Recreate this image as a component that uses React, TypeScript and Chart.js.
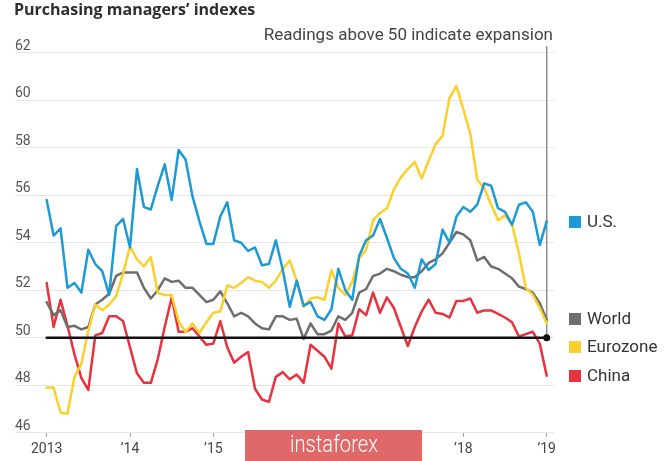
import React, { useEffect, useRef } from "react";
import { Chart, registerables } from "chart.js";

Chart.register(...registerables);

// Monthly readings, Jan 2013 .. Jan 2019
const months: number[] = Array.from({ length: 73 }, (_, i) => i);

const usValues = [
  55.8, 54.3, 54.6, 52.1, 52.3, 51.9, 53.7, 53.1, 52.8, 51.8, 54.7, 55.0,
  53.8, 57.1, 55.5, 55.4, 56.4, 57.3, 55.8, 57.9, 57.5, 55.95, 54.9, 53.95,
  53.95, 55.1, 55.7, 54.1, 54.0, 53.65, 53.8, 53.05, 53.1, 54.1, 52.85, 51.3,
  52.4, 51.35, 51.5, 50.9, 50.75, 51.2, 52.9, 52.0, 51.6, 53.45, 54.1, 54.3,
  55.0, 54.2, 53.35, 52.9, 52.7, 52.1, 53.3, 52.85, 53.1, 54.55, 54.0, 55.1,
  55.5, 55.3, 55.6, 56.5, 56.4, 55.45, 55.3, 54.75, 55.6, 55.7, 55.3, 53.9, 54.9,
];

const eurozoneValues = [
  47.9, 47.9, 46.85, 46.8, 48.35, 48.9, 50.3, 51.4, 51.15, 51.4, 51.75, 52.7,
  53.85, 53.3, 53.0, 53.4, 51.9, 51.8, 51.8, 50.7, 50.25, 50.6, 50.2, 50.65,
  51.05, 51.1, 52.2, 52.1, 52.3, 52.55, 52.4, 52.35, 52.1, 52.4, 52.9, 53.25,
  52.4, 51.3, 51.65, 51.7, 51.6, 52.85, 52.1, 51.8, 52.35, 53.35, 53.7, 54.95,
  55.25, 55.45, 56.25, 56.75, 57.1, 57.4, 56.7, 57.45, 58.15, 58.5, 60.1, 60.6,
  59.6, 58.6, 56.65, 56.3, 55.6, 54.95, 55.15, 54.8, 53.55, 52.1, 51.8, 51.25, 50.6,
];

const worldValues = [
  51.5, 50.95, 51.15, 50.45, 50.5, 50.35, 50.45, 51.4, 51.6, 51.85, 52.6, 52.75,
  52.75, 52.75, 52.1, 51.65, 52.0, 52.5, 52.35, 52.4, 52.1, 52.1, 51.8, 51.5,
  51.6, 51.95, 51.45, 50.9, 51.05, 50.9, 50.6, 50.4, 50.35, 50.9, 50.9, 50.75,
  50.8, 49.95, 50.6, 50.15, 50.15, 50.3, 50.9, 50.75, 51.05, 51.9, 52.05, 52.6,
  52.7, 52.9, 52.8, 52.65, 52.55, 52.55, 52.8, 53.15, 53.3, 53.55, 54.0, 54.45,
  54.35, 54.1, 53.25, 53.4, 53.0, 52.9, 52.7, 52.5, 52.15, 52.05, 51.9, 51.45, 50.75,
];

const chinaValues = [
  52.3, 50.45, 51.6, 50.5, 49.3, 48.3, 47.8, 50.1, 50.2, 50.9, 50.9, 50.7,
  49.6, 48.5, 48.1, 48.1, 49.1, 50.45, 51.7, 50.25, 50.25, 50.4, 50.05, 49.7,
  49.75, 50.7, 49.6, 48.95, 49.2, 49.4, 47.85, 47.4, 47.3, 48.35, 48.55, 48.25,
  48.45, 48.1, 49.7, 49.45, 49.2, 48.7, 50.6, 50.05, 50.1, 51.2, 50.95, 51.9,
  51.05, 51.7, 51.25, 50.45, 49.65, 50.45, 51.1, 51.6, 51.05, 51.0, 50.85, 51.55,
  51.55, 51.65, 51.05, 51.15, 51.15, 51.0, 50.85, 50.65, 50.05, 50.15, 50.25, 49.75, 48.4,
];

const yearTickValues = [0, 12, 24, 36, 48, 60, 72];
const yearTickLabels = ["2013", "\u201914", "\u201915", "\u201916", "\u201917", "\u201918", "\u201919"];

const seriesNames = ["U.S.", "World", "Eurozone", "China"];
const seriesColors = ["#1d9ad6", "#6e6e6e", "#fbd02c", "#e8323e"];

const expansionLevel = 50;
const lastMonth = 72;

const TITLE = "Purchasing managers\u2019 indexes";
const SUBTITLE = "Readings above 50 indicate expansion";

const toPoints = (vals: number[]) => vals.map((v, i) => ({ x: months[i], y: v }));

export default function App() {
  const canvasRef = useRef<HTMLCanvasElement | null>(null);

  useEffect(() => {
    const canvas = canvasRef.current;
    if (!canvas) return;

    const legendY = [222, 319, 347, 376];

    const overlay = {
      id: "overlay",
      afterDraw(chart: any) {
        const ctx = chart.ctx as CanvasRenderingContext2D;
        ctx.save();
        ctx.textAlign = "left";
        ctx.textBaseline = "alphabetic";
        ctx.fillStyle = "#2e2e2e";
        ctx.font = '700 16px "Open Sans"';
        ctx.fillText(TITLE, 14, 15);

        ctx.fillStyle = "#444";
        ctx.font = "17px Roboto";
        ctx.textAlign = "right";
        ctx.fillText(SUBTITLE, 553, 40);

        ctx.textAlign = "left";
        ctx.textBaseline = "middle";
        ctx.font = "17px Roboto";
        seriesNames.forEach((name, i) => {
          const y = legendY[i];
          ctx.fillStyle = seriesColors[i];
          ctx.fillRect(569, y - 6, 12, 12);
          ctx.fillStyle = "#333";
          ctx.fillText(name, 587, y + 1);
        });

        // watermark
        ctx.fillStyle = "#e06868";
        ctx.fillRect(245, 430, 177, 31);
        ctx.fillStyle = "#ffffff";
        ctx.font = "300 23px Roboto";
        ctx.textAlign = "center";
        ctx.textBaseline = "middle";
        ctx.fillText("instaforex", 334, 446, 88);
        ctx.restore();
      },
    };

    const chart = new Chart(canvas, {
      type: "line",
      data: {
        datasets: [
          {
            label: "50",
            data: [
              { x: months[0], y: expansionLevel },
              { x: lastMonth, y: expansionLevel },
            ],
            borderColor: "#111",
            borderWidth: 2.5,
            pointRadius: (c: any) => (c.dataIndex === 1 ? 3.5 : 0),
            pointBackgroundColor: "#111",
            pointBorderWidth: 0,
          } as any,
          {
            label: seriesNames[0],
            data: toPoints(usValues),
            borderColor: seriesColors[0],
            borderWidth: 2.5,
            pointRadius: 0,
          },
          {
            label: seriesNames[2],
            data: toPoints(eurozoneValues),
            borderColor: seriesColors[2],
            borderWidth: 2.5,
            pointRadius: 0,
          },
          {
            label: seriesNames[1],
            data: toPoints(worldValues),
            borderColor: seriesColors[1],
            borderWidth: 2.5,
            pointRadius: 0,
          },
          {
            label: seriesNames[3],
            data: toPoints(chinaValues),
            borderColor: seriesColors[3],
            borderWidth: 2.5,
            pointRadius: 0,
          },
          {
            label: "end",
            data: [
              { x: lastMonth, y: expansionLevel },
              { x: lastMonth, y: 62.25 },
            ],
            borderColor: "#8c8c8c",
            borderWidth: 1.5,
            pointRadius: 0,
            clip: false as any,
          } as any,
        ],
      },
      options: {
        responsive: false,
        animation: false,
        devicePixelRatio: 1,
        layout: { padding: { left: 15, right: 111, top: 52.7, bottom: 0 } },
        plugins: {
          legend: { display: false },
          tooltip: { enabled: false },
          title: { display: false },
        },
        elements: { line: { tension: 0, borderJoinStyle: "round", borderCapStyle: "round" } },
        scales: {
          x: {
            type: "linear",
            min: -4.56,
            max: 73.05,
            afterBuildTicks: (axis: any) => {
              axis.ticks = yearTickValues.map((v) => ({ value: v }));
            },
            afterFit: (axis: any) => {
              axis.height = 28.3;
            },
            grid: {
              display: true,
              drawOnChartArea: false,
              drawTicks: true,
              tickLength: 4,
              color: "#a0a0a0",
              lineWidth: 1,
            },
            border: { display: false },
            ticks: {
              autoSkip: false,
              maxRotation: 0,
              padding: 4,
              color: "#444",
              font: { family: "Roboto", size: 14 },
              callback: (value: any) => {
                const idx = yearTickValues.indexOf(Number(value));
                return idx >= 0 ? yearTickLabels[idx] : "";
              },
            },
          },
          y: {
            type: "linear",
            min: 46,
            max: 62,
            position: "left",
            afterFit: (axis: any) => {
              axis.width = 0;
            },
            grid: {
              color: "#e6e6e6",
              lineWidth: 1,
              drawTicks: false,
            },
            border: { display: false },
            ticks: {
              stepSize: 2,
              mirror: true,
              padding: 0,
              labelOffset: -6.5,
              color: "#555",
              font: { family: "Roboto", size: 14 },
            },
          },
        },
      },
      plugins: [overlay],
    });

    return () => chart.destroy();
  }, []);

  return (
    <div style={{ position: "fixed", left: 0, top: 0, width: 665, height: 461, background: "#fff" }}>
      <canvas ref={canvasRef} width={665} height={461} style={{ display: "block" }} />
    </div>
  );
}
